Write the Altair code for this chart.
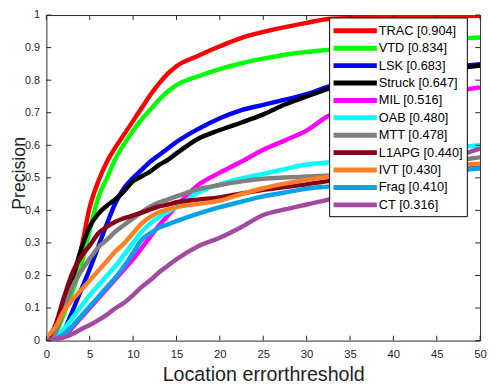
import altair as alt
import pandas as pd

# ---- data ----
names = ["TRAC", "VTD", "LSK", "Struck", "MIL", "OAB", "MTT", "L1APG", "IVT", "Frag", "CT"]
scores = [0.904, 0.834, 0.683, 0.647, 0.516, 0.480, 0.478, 0.440, 0.430, 0.410, 0.316]
colors = ["#ff0000", "#00ff00", "#0000ff", "#000000", "#ff00ff", "#00ffff",
          "#7f7f7f", "#880015", "#ff7f27", "#00a2e8", "#a349a4"]

thresholds = [0, 1, 2, 3, 4, 5, 6, 7, 8, 9, 10, 11, 12, 13, 14, 15, 17.5, 20,
              22.5, 25, 27.5, 30, 32.5, 35, 40, 45, 48.5, 50]

TRAC = [0, 0.03, 0.10, 0.18, 0.28, 0.41, 0.49, 0.55, 0.595, 0.635, 0.675, 0.715, 0.755, 0.79,
        0.82, 0.843, 0.875, 0.904, 0.93, 0.948, 0.963, 0.976, 0.988, 0.991, 0.994, 0.996, 0.997, 0.998]
VTD = [0, 0.02, 0.08, 0.15, 0.23, 0.34, 0.44, 0.50, 0.56, 0.605, 0.645, 0.68, 0.71, 0.74,
       0.765, 0.785, 0.812, 0.834, 0.852, 0.866, 0.878, 0.887, 0.893, 0.90, 0.912, 0.922, 0.929, 0.931]
LSK = [0, 0.005, 0.03, 0.09, 0.155, 0.22, 0.29, 0.36, 0.425, 0.47, 0.50, 0.525, 0.55, 0.57,
       0.59, 0.61, 0.65, 0.683, 0.708, 0.724, 0.74, 0.757, 0.78, 0.795, 0.815, 0.833, 0.845, 0.849]
Struck = [0, 0.025, 0.10, 0.19, 0.28, 0.35, 0.39, 0.415, 0.435, 0.46, 0.49, 0.505, 0.52, 0.54,
          0.555, 0.575, 0.62, 0.647, 0.67, 0.695, 0.725, 0.75, 0.773, 0.79, 0.81, 0.828, 0.84, 0.845]
MIL = [0, 0.0, 0.012, 0.04, 0.07, 0.10, 0.13, 0.16, 0.19, 0.22, 0.25, 0.285, 0.32, 0.354,
       0.384, 0.413, 0.478, 0.516, 0.55, 0.586, 0.615, 0.645, 0.69, 0.71, 0.74, 0.76, 0.772, 0.778]
OAB = [0, 0.01, 0.035, 0.07, 0.105, 0.14, 0.17, 0.20, 0.23, 0.265, 0.30, 0.335, 0.36, 0.38,
       0.395, 0.41, 0.455, 0.48, 0.498, 0.512, 0.527, 0.541, 0.547, 0.555, 0.57, 0.585, 0.596, 0.60]
MTT = [0, 0.02, 0.095, 0.165, 0.213, 0.252, 0.287, 0.31, 0.336, 0.356, 0.375, 0.395, 0.412, 0.425,
       0.434, 0.443, 0.465, 0.478, 0.489, 0.497, 0.501, 0.504, 0.507, 0.515, 0.53, 0.548, 0.558, 0.563]
L1APG = [0, 0.045, 0.13, 0.208, 0.257, 0.292, 0.33, 0.35, 0.366, 0.376, 0.385, 0.393, 0.403, 0.412,
         0.418, 0.425, 0.433, 0.44, 0.452, 0.463, 0.472, 0.48, 0.49, 0.495, 0.508, 0.52, 0.528, 0.53]
IVT = [0.01, 0.04, 0.09, 0.125, 0.155, 0.185, 0.215, 0.245, 0.275, 0.30, 0.33, 0.36, 0.38, 0.395,
       0.403, 0.41, 0.42, 0.43, 0.45, 0.468, 0.482, 0.494, 0.503, 0.51, 0.522, 0.535, 0.541, 0.543]
Frag = [0, 0.005, 0.02, 0.045, 0.075, 0.105, 0.135, 0.165, 0.195, 0.23, 0.27, 0.31, 0.33, 0.347,
        0.357, 0.367, 0.39, 0.41, 0.427, 0.443, 0.455, 0.467, 0.473, 0.48, 0.495, 0.51, 0.525, 0.53]
CT = [0, 0.005, 0.01, 0.02, 0.035, 0.048, 0.063, 0.08, 0.10, 0.117, 0.14, 0.165, 0.186, 0.21,
      0.23, 0.25, 0.29, 0.316, 0.349, 0.386, 0.403, 0.418, 0.433, 0.45, 0.49, 0.53, 0.577, 0.59]

series = [TRAC, VTD, LSK, Struck, MIL, OAB, MTT, L1APG, IVT, Frag, CT]

x_ticks = [0, 5, 10, 15, 20, 25, 30, 35, 40, 45, 50]
y_ticks = [0, 0.1, 0.2, 0.3, 0.4, 0.5, 0.6, 0.7, 0.8, 0.9, 1]

# ---- tables ----
rows = []
for k, (n, vals) in enumerate(zip(names, series)):
    for t, v in zip(thresholds, vals):
        rows.append({"name": n, "order": k, "threshold": t, "precision": v})
df = pd.DataFrame(rows)

legend_df = pd.DataFrame({"name": names,
                          "label": [f"{n} [{s:.3f}]" for n, s in zip(names, scores)]})
xt_df = pd.DataFrame({"threshold": x_ticks})
yt_df = pd.DataFrame({"p": y_ticks})

W, H = 441, 331
FONT = "Liberation Sans"
TXT = "#1e1e1e"
XTITLE = "Location errorthreshold"

xscale = alt.Scale(domain=[0, 50], nice=False, zero=False)
yscale = alt.Scale(domain=[0, 1], nice=False, zero=False)
xaxis = alt.Axis(values=x_ticks, title=XTITLE, ticks=False,
                 domain=False, grid=False, labelPadding=8, labelFontSize=11.5,
                 labelFont=FONT, labelColor=TXT, titleFont=FONT, titleFontSize=20,
                 titleFontWeight="normal", titleColor=TXT, titlePadding=5,
                 labelFlush=False)
color = alt.Color("name:N", scale=alt.Scale(domain=names, range=colors), legend=None)

lines = alt.Chart(df).mark_line(strokeWidth=4.5, clip=True, interpolate="monotone").encode(
    x=alt.X("threshold:Q", scale=xscale, axis=xaxis),
    y=alt.Y("precision:Q", scale=yscale,
            axis=alt.Axis(values=y_ticks, format="~g", title="Precision", ticks=False,
                          domain=False, grid=False, labelPadding=7, labelFontSize=11,
                          labelFont=FONT, labelColor=TXT, titleFont=FONT, titleFontSize=18,
                          titleFontWeight="normal", titleColor=TXT, titleBaseline="alphabetic",
                          titleX=-22.5, titleY=H / 2 - 5, labelFlush=False)),
    color=color,
    order=alt.Order("order:Q"),
    detail="name:N",
)

TL = 5
tick_style = dict(color="#262626", strokeWidth=1)
xt_bottom = alt.Chart(xt_df).mark_rule(**tick_style).encode(
    x=alt.X("threshold:Q", scale=xscale, axis=xaxis), y=alt.value(H), y2=alt.value(H - TL))
xt_top = alt.Chart(xt_df).mark_rule(**tick_style).encode(
    x=alt.X("threshold:Q", scale=xscale, axis=xaxis), y=alt.value(0), y2=alt.value(TL))
yt_left = alt.Chart(yt_df).mark_rule(**tick_style).encode(
    y=alt.Y("p:Q", scale=yscale, axis=None), x=alt.value(0), x2=alt.value(TL))
yt_right = alt.Chart(yt_df).mark_rule(**tick_style).encode(
    y=alt.Y("p:Q", scale=yscale, axis=None), x=alt.value(W - TL), x2=alt.value(W))

# legend box
LX0, LX1, LY0, LY1 = 288, 428, 3, 205
box = alt.Chart(pd.DataFrame({"k": [0]})).mark_rect(
    fill="white", stroke="#000000", strokeWidth=1).encode(
    x=alt.value(LX0), x2=alt.value(LX1), y=alt.value(LY0), y2=alt.value(LY1))

leg_y = alt.Y("name:N", scale=alt.Scale(type="point", domain=names, range=[16, 193], padding=0),
              axis=None)
leg_sym = alt.Chart(legend_df).mark_rule(strokeWidth=5).encode(
    x=alt.value(LX0 + 4), x2=alt.value(LX0 + 48), y=leg_y, color=color)
leg_txt = alt.Chart(legend_df).mark_text(align="left", baseline="middle", font=FONT,
                                         fontSize=13, color="#000000").encode(
    x=alt.value(LX0 + 50), y=leg_y, text="label:N")

chart = alt.layer(
    lines, xt_bottom, xt_top, yt_left, yt_right, box, leg_sym, leg_txt
).resolve_scale(y="independent").properties(
    width=W, height=H,
    autosize=alt.AutoSizeParams(type="none"),
    padding={"left": 39, "top": 4, "right": 7, "bottom": 44},
    background="white",
).configure_view(stroke="#262626", strokeWidth=1)

chart.save("out.html", embed_options={"renderer": "svg", "actions": False})
